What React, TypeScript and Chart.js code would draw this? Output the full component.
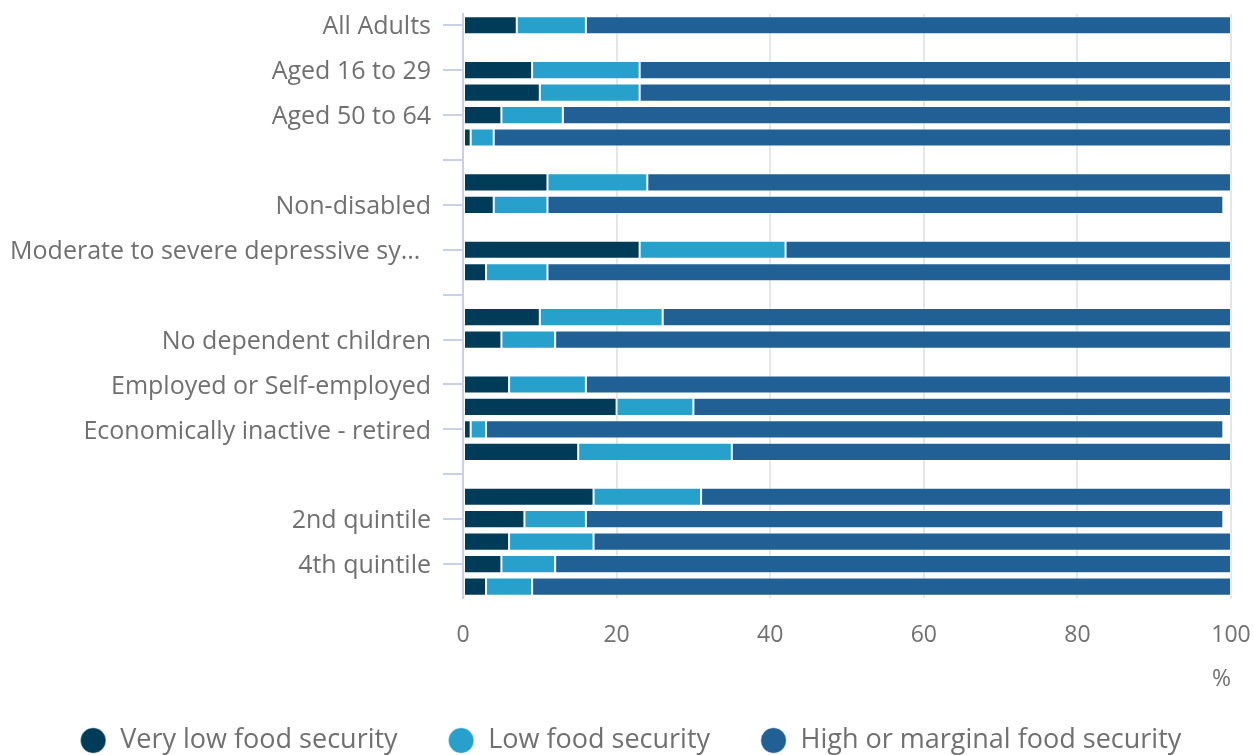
import React, { useEffect, useRef } from "react";
import { Chart, registerables } from "chart.js";

Chart.register(...registerables);

const categories: string[] = [
  "All Adults",
  "",
  "Aged 16 to 29",
  "Aged 30 to 49",
  "Aged 50 to 64",
  "Aged 65 and over",
  " ",
  "Disabled",
  "Non-disabled",
  "  ",
  "Moderate to severe depressive symptoms",
  "No or mild depressive symptoms",
  "   ",
  "Dependent children",
  "No dependent children",
  "    ",
  "Employed or Self-employed",
  "Unemployed",
  "Economically inactive - retired",
  "Economically inactive - other",
  "     ",
  "1st quintile (most deprived)",
  "2nd quintile",
  "3rd quintile",
  "4th quintile",
  "5th quintile (least deprived)",
];

const veryLow: (number | null)[] = [7, null, 9, 10, 5, 1, null, 11, 4, null, 23, 3, null, 10, 5, null, 6, 20, 1, 15, null, 17, 8, 6, 5, 3];
const low: (number | null)[] = [9, null, 14, 13, 8, 3, null, 13, 7, null, 19, 8, null, 16, 7, null, 10, 10, 2, 20, null, 14, 8, 11, 7, 6];
const highMarginal: (number | null)[] = [84, null, 77, 77, 87, 96, null, 76, 88, null, 58, 89, null, 74, 88, null, 84, 70, 96, 65, null, 69, 83, 83, 88, 91];

const seriesNames = ["Very low food security", "Low food security", "High or marginal food security"];
const seriesColors = ["#003c57", "#27a0cc", "#206095"];

const FONT = "'Open Sans', sans-serif";
const TEXT = "#707070";
const AXIS = "#c8d1e8";

export default function App() {
  const ref = useRef<HTMLCanvasElement | null>(null);

  useEffect(() => {
    if (!ref.current) return;
    const chart = new Chart(ref.current, {
      type: "bar",
      data: {
        labels: categories,
        datasets: [veryLow, low, highMarginal].map((d, i) => ({
          label: seriesNames[i],
          data: d,
          backgroundColor: seriesColors[i],
          borderColor: "rgba(255,255,255,0.45)",
          borderWidth: 1,
          borderSkipped: false,
          categoryPercentage: 0.9,
          barPercentage: 0.9,
        })),
      },
      options: {
        indexAxis: "y",
        animation: false,
        responsive: true,
        maintainAspectRatio: false,
        layout: { padding: { top: 6, right: 0, left: 0, bottom: 0 } },
        scales: {
          x: {
            stacked: true,
            min: 0,
            max: 100,
            afterFit: (s: any) => {
              s.paddingRight = 22;
              s.paddingLeft = 0;
            },
            ticks: {
              stepSize: 20,
              color: TEXT,
              font: { family: FONT, size: 23 },
              padding: 24,
            },
            grid: {
              color: "#e6e6e6",
              lineWidth: 2,
              drawTicks: false,
            },
            border: { display: false },
            title: {
              display: true,
              text: "%",
              align: "end",
              color: TEXT,
              font: { family: FONT, size: 23 },
              padding: { top: -8, bottom: 11 },
            },
          },
          y: {
            stacked: true,
            afterFit: (s: any) => {
              s.paddingTop = 0;
              s.paddingBottom = 0;
              s.width = 455;
            },
            ticks: {
              autoSkip: false,
              color: TEXT,
              font: { family: FONT, size: 25 },
              padding: 12,
              labelOffset: 2,
              callback: function (_v: any, i: number) {
                if (i % 2 !== 0) return "";
                const s = categories[i].trim();
                return s.length > 32 ? s.slice(0, 32) + "... \u2009" : s;
              },
            },
            grid: {
              offset: false,
              drawOnChartArea: false,
              tickLength: 20,
              lineWidth: 2,
              tickColor: (ctx: any) => (ctx.index % 2 === 0 ? AXIS : "rgba(0,0,0,0)"),
            },
            border: { display: true, color: AXIS, width: 2 },
          },
        },
        plugins: {
          legend: {
            position: "bottom",
            labels: {
              usePointStyle: true,
              pointStyle: "circle",
              boxWidth: 27,
              boxHeight: 18,
              padding: 23,
              color: TEXT,
              font: { family: FONT, size: 27 },
              generateLabels: (c: any) =>
                Chart.defaults.plugins.legend.labels
                  .generateLabels(c)
                  .map((l: any, i: number) => ({ ...l, text: i < 2 ? l.text + "\u2003" : l.text })),
            },
          },
          tooltip: { enabled: false },
        },
      },
    });
    return () => chart.destroy();
  }, []);

  return (
    <div style={{ position: "fixed", left: "8px", top: "8px", width: "1245px", height: "756px" }}>
      <canvas ref={ref} />
    </div>
  );
}
